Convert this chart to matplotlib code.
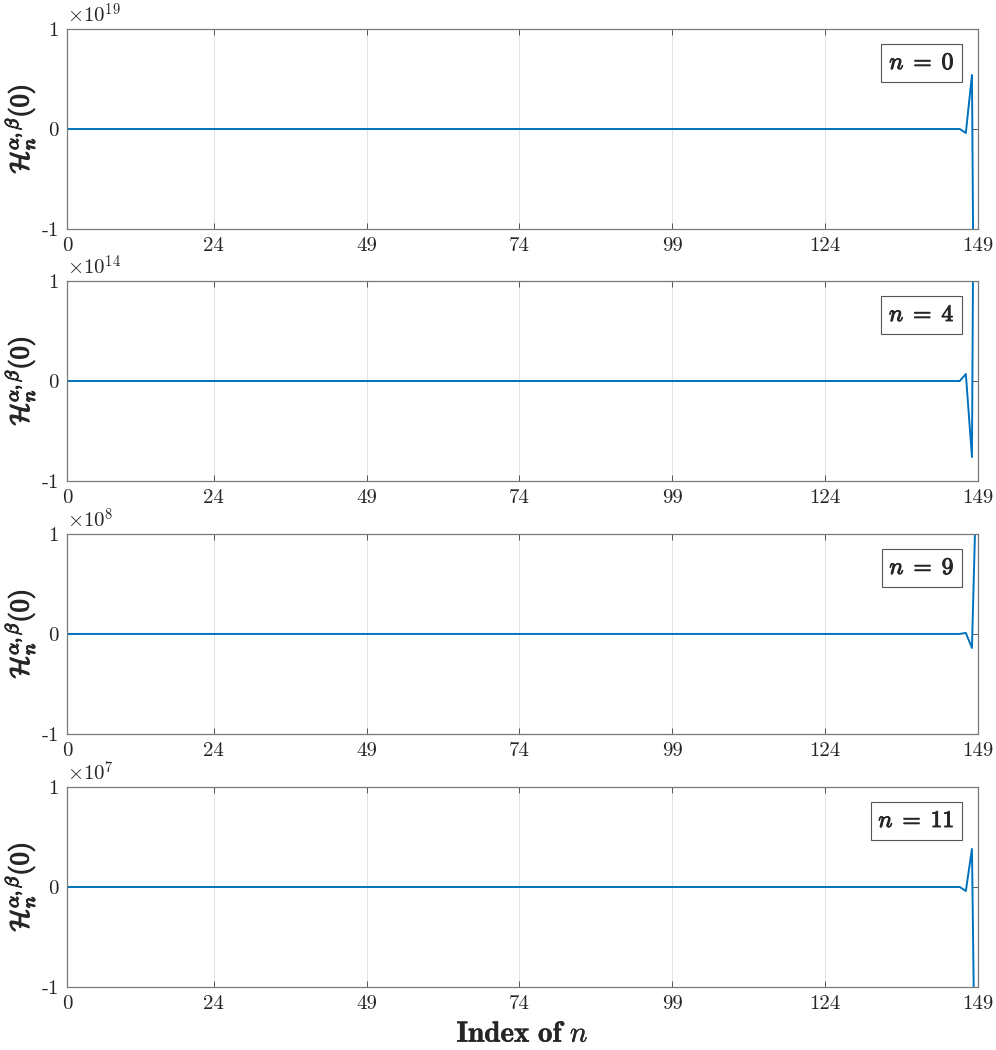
import matplotlib
matplotlib.use("Agg")
import matplotlib.pyplot as plt
import matplotlib.patheffects as pe
import numpy as np

plt.rcParams["font.family"] = "cmr10"
plt.rcParams["mathtext.fontset"] = "cm"
plt.rcParams["axes.formatter.use_mathtext"] = True
plt.rcParams["axes.unicode_minus"] = False

# data: index 0..149, values are ~0 until the last few points
n_index = np.arange(150)
h_n0 = np.concatenate([np.zeros(147), [-0.04e19, 0.54e19, -8.0e19]])
h_n4 = np.concatenate([np.zeros(147), [0.07e14, -0.76e14, 10.0e14]])
h_n9 = np.concatenate([np.zeros(147), [0.01e8, -0.14e8, 2.2e8]])
h_n11 = np.concatenate([np.zeros(147), [-0.04e7, 0.38e7, -4.5e7]])

series = [h_n0, h_n4, h_n9, h_n11]
exponents = [19, 14, 8, 7]
labels = ["0", "4", "9", "11"]
xticks = [0, 24, 49, 74, 99, 124, 149]
yticklabels = ["-1", "0", "1"]

fig = plt.figure(figsize=(9.96, 10.5), dpi=100)
bottoms = [0.7819, 0.5419, 0.3010, 0.0600]
left, width, height = 0.0673, 0.9147, 0.1905
dark = "#262626"
bold = [pe.withStroke(linewidth=0.9, foreground=dark)]

for i in range(4):
    ax = fig.add_axes([left, bottoms[i], width, height])
    scale = 10.0 ** exponents[i]
    ax.plot(n_index, series[i], color="#0072BD", lw=1.4)
    ax.set_xlim(0, 149)
    ax.set_ylim(-scale, scale)
    ax.set_xticks(xticks)
    ax.set_xticklabels([str(t) for t in xticks])
    ax.set_yticks([-scale, 0, scale])
    ax.set_yticklabels(yticklabels)
    # exponent label like MATLAB
    ax.text(0.0, 1.012, r"$\times10^{%d}$" % exponents[i], transform=ax.transAxes,
            ha="left", va="bottom", fontsize=15, color=dark)
    ax.grid(axis="x", color="#e3e3e3", lw=0.8)
    ax.set_axisbelow(True)
    for s in ax.spines.values():
        s.set_color("#7a7a7a")
        s.set_linewidth(0.9)
    ax.tick_params(direction="in", length=4, width=0.7, color="#555555",
                   labelsize=15, labelcolor=dark, top=True, right=True, pad=6)
    ax.set_ylabel(r"$\mathcal{H}_n^{\alpha,\beta}(0)$", fontsize=19,
                  labelpad=3, color=dark, path_effects=bold)
    ax.text(0.974, 0.83, r"$n\;=\;%s$" % labels[i], transform=ax.transAxes,
            ha="right", va="center", fontsize=17, color=dark,
            path_effects=[pe.withStroke(linewidth=0.7, foreground=dark)],
            bbox=dict(boxstyle="square,pad=0.33", fc="white", ec="#555555", lw=0.8))
    if i == 3:
        ax.set_xlabel(r"$\mathbf{Index\ of}\ n$", fontsize=21, color=dark,
                      labelpad=6, path_effects=[pe.withStroke(linewidth=0.3, foreground=dark)])

fig.savefig("out.png", dpi=100)
